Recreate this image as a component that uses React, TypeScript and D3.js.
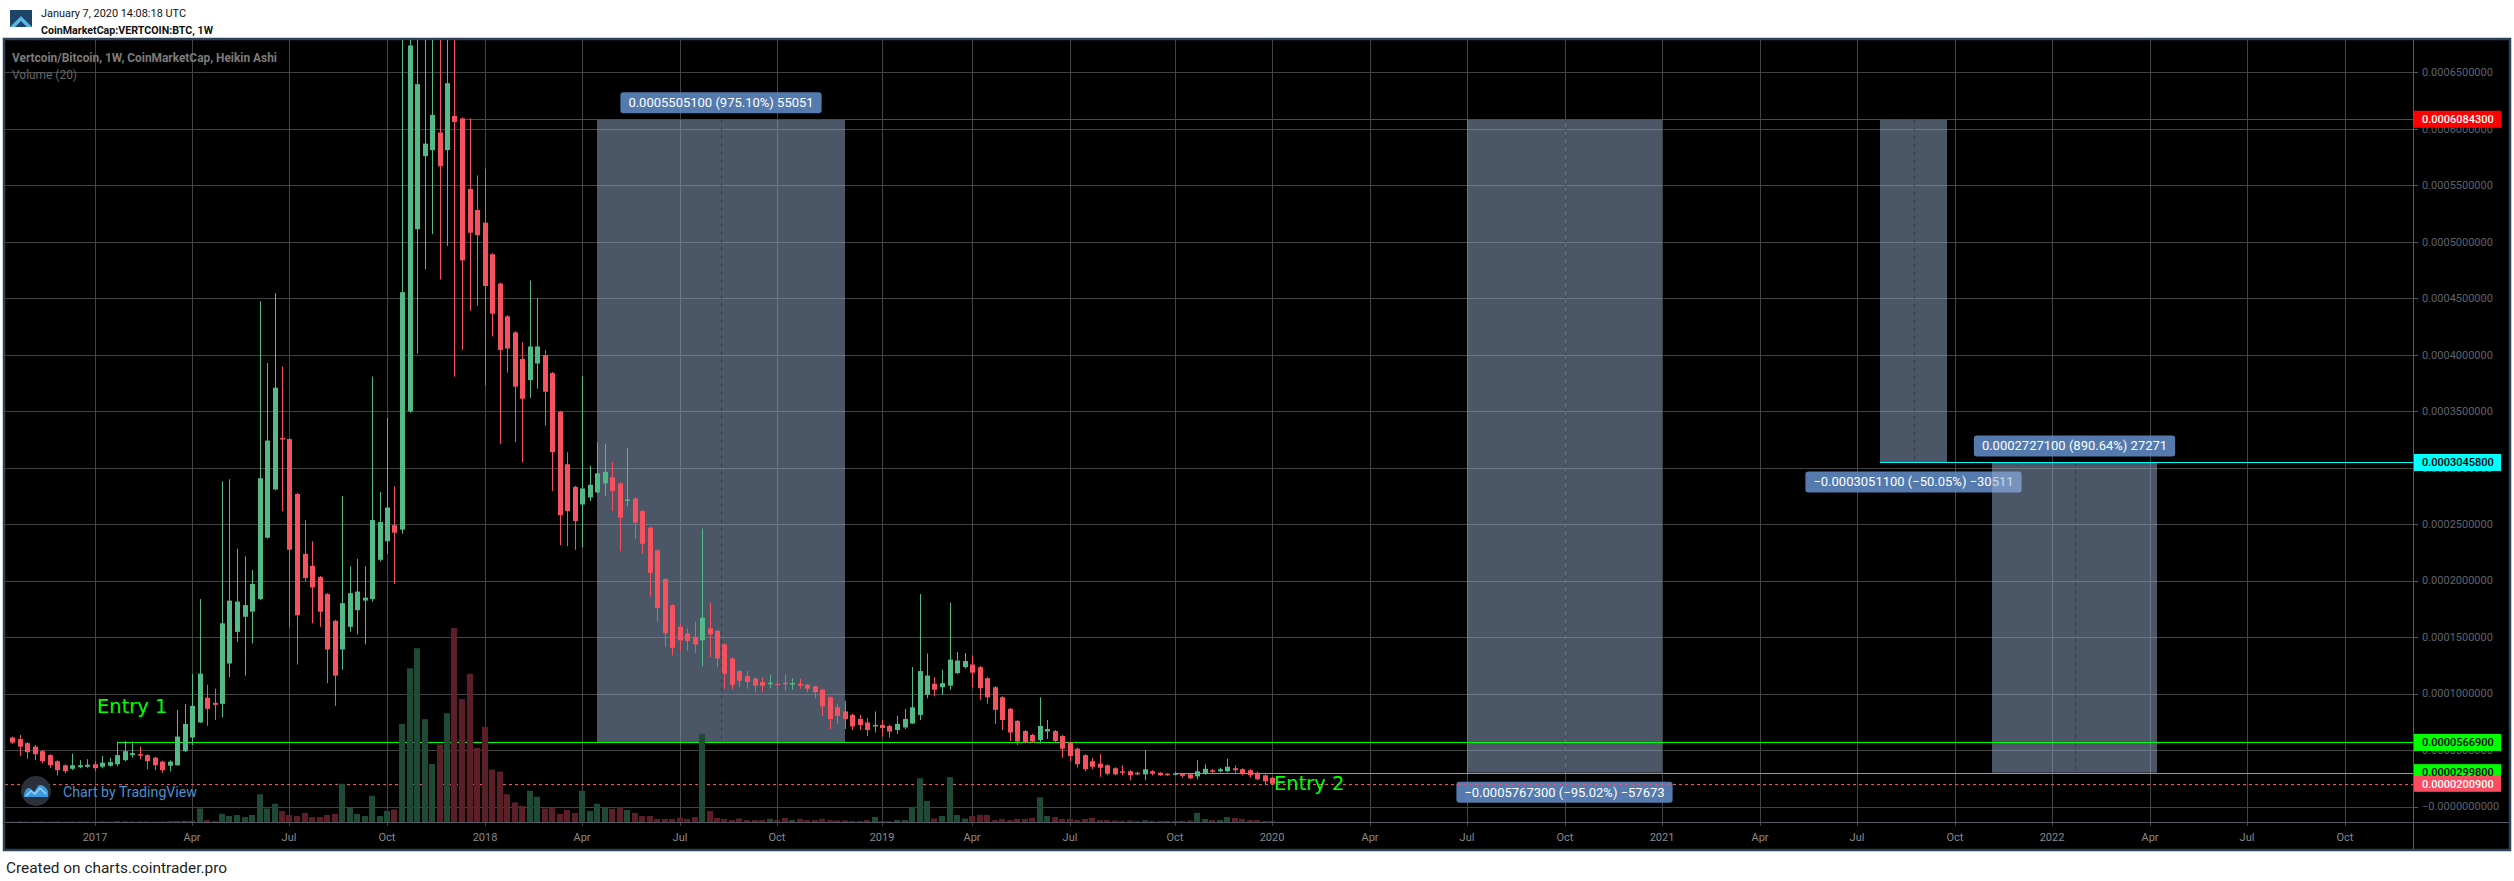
import React from "react";
import * as d3 from "d3";

// ---------- DATA ----------
// Weekly Heikin Ashi candles of Vertcoin/Bitcoin, first bar = week of 2016-10-17, last = 2020-01-06
// Prices are in units of 1e-5 BTC
const FIRST_WEEK = "2016-10-17";
const LAST_WEEK = "2020-01-06";
const PRICE_UNIT = 1e-5;

const OPEN = [
  6.11, 5.97, 5.61, 5.3, 4.9, 4.55, 4.01, 3.65, 3.34, 3.48, 3.52, 3.74, 3.52, 3.61, 3.74, 4.1, 4.55, 4.63, 4.55, 4.32,
  3.97, 3.61, 3.65, 4.9, 6.11, 7.44, 9.63, 9.18, 9.09, 12.66, 15.46, 16.8, 17.25, 18.36, 23.8, 28.07, 32.62, 32.53, 27.67, 22.37,
  21.3, 20.32, 18.81, 16.44, 13.9, 15.91, 17.38, 18.23, 18.36, 21.84, 23.48, 24.91, 24.51, 34.98, 51.11, 57.58, 58.11, 59.67, 58.11, 61.14,
  60.92, 54.68, 52.81, 51.69, 48.89, 46.3, 43.4, 41.98, 39.62, 37.75, 39.22, 39.97, 38.37, 34.94, 30.3, 28.3, 26.74, 27.36, 27.81, 28.61,
  29.14, 28.61, 27.05, 27.27, 26.16, 24.69, 22.68, 20.14, 17.83, 15.91, 15.33, 15.02, 14.71, 15.78, 15.55, 14.35, 13.1, 11.99, 11.54, 11.32,
  11.01, 10.83, 10.87, 10.96, 10.83, 10.87, 10.78, 10.65, 10.34, 9.67, 8.78, 8.42, 8.11, 7.75, 7.44, 7.09, 7.22, 7.13, 6.77, 7.0,
  7.35, 8.11, 9.89, 10.87, 10.56, 10.7, 11.81, 12.34, 12.57, 12.34, 11.36, 10.56, 9.67, 8.65, 7.58, 6.68, 6.33, 5.88, 6.64, 6.68,
  6.24, 5.66, 5.12, 4.55, 4.01, 3.79, 3.65, 3.39, 3.12, 3.12, 2.99, 2.85, 3.12, 2.99, 2.9, 2.85, 2.9, 2.85, 2.67, 2.9,
  3.21, 3.12, 3.12, 3.39, 3.3, 3.21, 2.99, 2.76, 2.54,
];
const HIGH = [
  6.19, 6.33, 5.7, 5.44, 4.99, 4.63, 4.1, 3.74, 4.68, 4.1, 4.19, 4.01, 4.46, 4.32, 5.75, 5.79, 5.75, 5.3, 4.63, 4.41,
  4.06, 4.1, 8.56, 9.09, 11.76, 18.36, 10.78, 10.43, 28.79, 28.97, 22.82, 22.15, 20.94, 44.74, 39.26, 45.45, 38.95, 32.62, 27.76, 25.36,
  23.48, 20.41, 18.89, 16.53, 27.5, 21.26, 21.93, 21.26, 38.06, 27.85, 34.4, 28.34, 70.0, 78.0, 76.0, 74.0, 72.0, 70.5, 72.0, 72.5,
  61.0, 60.92, 55.88, 56.46, 48.98, 46.39, 43.49, 42.07, 41.09, 46.57, 45.01, 40.42, 38.46, 35.03, 31.37, 28.39, 38.1, 30.17, 32.26, 32.09,
  30.48, 28.7, 31.73, 27.36, 26.25, 24.78, 22.77, 20.23, 17.91, 16.22, 15.78, 16.35, 24.6, 18.05, 15.64, 14.44, 13.19, 12.08, 11.99, 11.45,
  11.45, 11.68, 11.32, 11.72, 11.36, 11.32, 10.87, 10.7, 10.43, 9.76, 9.09, 9.36, 8.2, 8.11, 7.84, 8.42, 7.66, 7.22, 8.02, 8.65,
  12.34, 18.81, 13.55, 11.45, 12.12, 18.05, 13.68, 13.59, 13.37, 12.43, 11.45, 10.65, 9.76, 8.73, 7.66, 6.77, 6.42, 9.67, 7.66, 6.77,
  6.33, 5.75, 5.21, 4.63, 4.32, 4.63, 3.74, 3.48, 3.65, 3.21, 3.07, 4.99, 3.21, 3.03, 2.94, 3.07, 2.94, 2.9, 4.1, 3.74,
  3.34, 3.43, 4.23, 3.65, 3.39, 3.3, 3.07, 2.85, 2.63,
];
const LOW = [
  5.53, 4.46, 4.23, 4.1, 3.83, 3.43, 2.76, 2.94, 3.21, 3.39, 3.43, 3.12, 3.39, 3.52, 3.57, 4.01, 4.32, 4.19, 3.3, 3.21,
  2.99, 3.12, 3.61, 4.81, 5.44, 7.4, 7.13, 7.66, 7.89, 11.45, 14.57, 11.59, 14.44, 18.27, 23.71, 27.99, 26.16, 15.91, 12.57, 19.92,
  16.22, 15.91, 10.92, 8.91, 12.12, 15.46, 15.24, 14.35, 18.14, 21.7, 22.37, 19.7, 24.15, 34.85, 40.11, 47.55, 50.67, 46.66, 49.64, 38.06,
  40.42, 43.89, 44.34, 37.25, 41.62, 32.09, 38.41, 32.26, 30.48, 36.19, 36.99, 33.73, 27.94, 23.13, 23.04, 22.73, 22.95, 27.05, 27.72, 27.5,
  26.16, 22.59, 26.6, 23.71, 22.37, 18.58, 16.35, 14.13, 13.37, 13.68, 13.77, 13.59, 12.43, 13.24, 12.34, 10.43, 10.34, 10.56, 10.43, 10.12,
  10.12, 10.47, 10.25, 10.25, 10.34, 10.43, 10.12, 9.58, 8.02, 6.86, 7.31, 6.86, 6.77, 6.77, 6.24, 6.55, 6.19, 6.11, 6.42, 6.86,
  7.31, 7.66, 9.58, 9.76, 9.89, 10.34, 11.72, 12.21, 10.56, 9.45, 9.09, 7.31, 6.77, 5.79, 5.44, 5.57, 5.61, 5.57, 5.97, 5.66,
  4.32, 4.01, 3.43, 3.12, 3.3, 2.63, 2.76, 2.76, 2.76, 2.32, 2.76, 2.32, 2.76, 2.72, 2.72, 2.76, 2.54, 2.41, 2.41, 2.81,
  2.99, 3.03, 3.03, 2.99, 2.76, 2.54, 2.32, 1.87, 1.98,
];
const CLOSE = [
  5.66, 5.3, 4.81, 4.63, 4.01, 3.65, 3.21, 3.12, 3.65, 3.65, 3.7, 3.39, 3.88, 3.92, 4.55, 4.9, 4.72, 4.55, 4.01, 3.65,
  3.21, 3.97, 6.19, 7.31, 8.91, 11.76, 8.65, 9.0, 16.22, 18.23, 18.14, 17.83, 19.7, 29.06, 32.4, 37.08, 32.49, 22.73, 16.93, 20.23,
  19.39, 17.25, 13.9, 11.59, 18.0, 18.89, 19.03, 18.49, 25.36, 25.18, 26.47, 24.24, 45.54, 67.38, 63.95, 58.69, 61.23, 56.68, 64.04, 60.61,
  48.35, 50.8, 50.58, 46.08, 43.63, 40.42, 40.55, 37.17, 36.1, 40.73, 40.73, 36.72, 31.37, 25.8, 26.16, 25.27, 28.16, 28.48, 29.5, 29.63,
  27.94, 25.58, 27.18, 25.13, 23.26, 20.68, 17.56, 15.33, 14.04, 14.71, 14.66, 14.35, 16.71, 15.24, 13.1, 11.76, 10.78, 11.14, 11.01, 10.7,
  10.7, 10.96, 10.78, 10.83, 10.92, 10.7, 10.43, 10.12, 8.87, 7.75, 8.02, 7.75, 7.09, 7.22, 6.77, 7.22, 6.95, 6.64, 7.31, 7.75,
  8.78, 11.99, 11.59, 10.34, 10.92, 13.01, 12.92, 12.88, 11.85, 10.47, 9.67, 8.56, 7.66, 6.55, 5.75, 5.66, 5.75, 7.13, 6.86, 5.79,
  5.12, 4.46, 3.74, 3.3, 3.52, 3.43, 2.9, 2.85, 3.03, 2.76, 2.85, 3.3, 2.9, 2.76, 2.76, 2.94, 2.72, 2.5, 3.12, 3.34,
  3.12, 3.3, 3.52, 3.21, 2.94, 2.76, 2.41, 2.23, 2.01,
];
// Volume (20), relative (largest week = 100)
const VOLUME = [
  0.2, 0.3, 0.2, 0.2, 0.3, 0.2, 0.3, 0.2, 0.2, 0.3, 0.2, 0.2, 0.3, 0.2, 0.4, 0.3, 0.2, 0.3, 0.3, 0.2,
  0.3, 0.4, 0.5, 0.6, 0.6, 7.0, 1.0, 0.5, 4.2, 3.1, 3.6, 2.6, 3.6, 14.3, 7.0, 9.4, 5.7, 3.6, 3.1, 4.7,
  2.6, 2.6, 3.6, 4.2, 19.7, 7.3, 4.2, 3.1, 13.5, 3.1, 5.7, 6.5, 50.6, 79.2, 89.6, 53.0, 29.9, 40.0, 56.1, 100,
  63.4, 76.4, 38.2, 49.1, 27.0, 26.0, 14.3, 10.1, 8.3, 16.1, 13.0, 7.0, 7.5, 4.2, 6.2, 4.7, 16.1, 5.7, 9.4, 7.3,
  6.8, 7.8, 6.2, 4.7, 3.1, 3.1, 1.6, 1.6, 1.6, 2.1, 1.6, 2.6, 45.5, 5.7, 2.1, 1.6, 1.0, 1.8, 1.0, 1.0,
  1.0, 1.6, 1.0, 2.1, 1.0, 1.6, 1.0, 1.0, 1.6, 1.0, 0.8, 0.8, 0.5, 0.5, 1.0, 2.6, 0.5, 0.5, 1.0, 1.0,
  7.8, 22.6, 10.9, 1.8, 3.1, 23.1, 3.6, 1.8, 3.1, 3.6, 3.6, 1.0, 1.6, 1.0, 1.6, 1.6, 2.1, 12.7, 3.1, 2.6,
  1.6, 1.6, 1.0, 1.6, 2.1, 1.0, 1.0, 0.8, 0.6, 0.8, 0.5, 0.9, 0.6, 0.5, 0.6, 0.5, 0.7, 0.8, 4.7, 1.6,
  1.0, 1.0, 2.6, 2.1, 1.6, 1.0, 1.0, 0.5, 0.5,
];

const TIME_TICK_DATES = [
  "2017-01-02", "2017-04-03", "2017-07-03", "2017-10-02",
  "2018-01-01", "2018-04-02", "2018-07-02", "2018-10-01",
  "2019-01-07", "2019-04-01", "2019-07-01", "2019-10-07",
  "2020-01-06", "2020-04-06", "2020-07-06", "2020-10-05",
  "2021-01-04", "2021-04-05", "2021-07-05", "2021-10-04",
  "2022-01-03", "2022-04-04", "2022-07-04", "2022-10-03",
];
const TIME_TICK_LABELS = [
  "2017", "Apr", "Jul", "Oct", "2018", "Apr", "Jul", "Oct", "2019", "Apr", "Jul", "Oct",
  "2020", "Apr", "Jul", "Oct", "2021", "Apr", "Jul", "Oct", "2022", "Apr", "Jul", "Oct",
];

const PRICE_TICKS = [0, 0.00005, 0.0001, 0.00015, 0.0002, 0.00025, 0.0003, 0.00035, 0.0004, 0.00045, 0.0005, 0.00055, 0.0006, 0.00065];
const PRICE_TICK_LABELS = [
  "\u22120.0000000000", "0.0000500000", "0.0001000000", "0.0001500000", "0.0002000000", "0.0002500000", "0.0003000000",
  "0.0003500000", "0.0004000000", "0.0004500000", "0.0005000000", "0.0005500000", "0.0006000000", "0.0006500000",
];

// Horizontal levels drawn on the chart
const LEVEL_NAMES = ["top", "half", "entry1", "entry2"];
const LEVEL_PRICES = [0.00060843, 0.00030458, 0.00005669, 0.00002998];
const LEVEL_STARTS = ["2017-12-11", "2021-07-26", "2017-01-23", "2019-10-07"];
const LEVEL_LABELS = ["0.0006084300", "0.0003045800", "0.0000566900", "0.0000299800"];
const LAST_PRICE = 0.00002009;
const LAST_PRICE_LABEL = "0.0000200900";

// Price range measurements
const RANGE_STARTS = ["2018-04-16", "2020-07-06", "2021-07-26", "2021-11-08"];
const RANGE_ENDS = ["2018-12-03", "2021-01-04", "2021-09-27", "2022-04-11"];
const RANGE_FROM = [0.00005669, 0.00060843, 0.00060843, 0.00002998];
const RANGE_TO = [0.00060843, 0.00002998, 0.00030458, 0.00030458];
const RANGE_TEXTS = [
  "0.0005505100 (975.10%) 55051",
  "\u22120.0005767300 (\u221295.02%) \u221257673",
  "\u22120.0003051100 (\u221250.05%) \u221230511",
  "0.0002727100 (890.64%) 27271",
];

const NOTE_TEXTS = ["Entry 1", "Entry 2"];
const NOTE_DATES = ["2017-01-02", "2020-01-06"];
const NOTE_PRICES = [0.000083, 0.0000146];

// ---------- STYLE ----------
const LEVEL_COLORS: Record<string, string> = { top: "#ff0000", half: "#00ffff", entry1: "#00ff00", entry2: "#00ff00" };
const LEVEL_TEXT: Record<string, string> = { top: "#ffffff", half: "#000000", entry1: "#000000", entry2: "#000000" };
const UP = "#53b987";
const DOWN = "#f5515f";
const VOL_UP = "#1f4a35";
const VOL_DOWN = "#5c1f27";
const GRID = "#434343";
const AXIS = "#565a64";
const FONT = "Roboto, 'Noto Sans', sans-serif";

const P = { left: 5, right: 2413, top: 40, bottom: 822 };

const parse = (s: string) => new Date(s + "T00:00:00Z");

function textWidth(text: string, font: string): number {
  try {
    const c = document.createElement("canvas").getContext("2d");
    if (c) {
      c.font = font;
      return c.measureText(text).width;
    }
  } catch (e) {}
  return text.length * 7.1;
}

export default function App() {
  const x = d3.scaleUtc().domain([parse(FIRST_WEEK), parse(LAST_WEEK)]).range([12, 1272]);
  const y = d3.scaleLinear().domain([0, 0.0006]).range([806.5, 128.8]);
  const yVol = d3.scaleLinear().domain([0, 100]).range([P.bottom, 628]);

  const start = parse(FIRST_WEEK);
  const candles = OPEN.map((o, i) => ({
    date: d3.utcMonday.offset(start, i),
    o: o * PRICE_UNIT,
    h: HIGH[i] * PRICE_UNIT,
    l: LOW[i] * PRICE_UNIT,
    c: CLOSE[i] * PRICE_UNIT,
    v: VOLUME[i],
  }));

  const px = (d: Date) => Math.round(x(d));

  const rangeFont = `13px ${FONT}`;

  return (
    <svg
      width={2514}
      height={881}
      style={{ position: "fixed", left: 0, top: 0, background: "#ffffff" }}
      fontFamily={FONT}
    >
      <defs>
        <clipPath id="pane">
          <rect x={P.left} y={P.top} width={P.right - P.left} height={P.bottom - P.top} />
        </clipPath>
      </defs>
      <rect x={0} y={0} width={2514} height={881} fill="#ffffff" />

      {/* header */}
      <g>
        <rect x={10} y={10} width={22} height={17} fill="#1d4466" />
        <polygon points="10,27 21,16 32,27 27,27 21,21 15,27" fill="#5ab8e6" />
        <text x={41} y={17.3} fontSize={11.5} fill="#111" textLength={145} lengthAdjust="spacingAndGlyphs">
          January 7, 2020 14:08:18 UTC
        </text>
        <text x={41} y={34.3} fontSize={11.5} fontWeight={700} fill="#111" textLength={172} lengthAdjust="spacingAndGlyphs">
          CoinMarketCap:VERTCOIN:BTC, 1W
        </text>
      </g>

      {/* chart frame */}
      <rect x={4} y={39} width={2506} height={811} fill="#000000" stroke="#2d4256" strokeWidth={2.5} />

      {/* grid */}
      <g>
        {PRICE_TICKS.map((t, i) => (
          <line key={"hg" + i} x1={P.left} x2={P.right} y1={Math.round(y(t)) + 0.5} y2={Math.round(y(t)) + 0.5} stroke={GRID} strokeWidth={1} />
        ))}
        {TIME_TICK_DATES.map((d, i) => (
          <line key={"vg" + i} x1={px(parse(d)) + 0.5} x2={px(parse(d)) + 0.5} y1={P.top} y2={P.bottom + 4} stroke={GRID} strokeWidth={1} />
        ))}
      </g>

      {/* price ranges */}
      <g clipPath="url(#pane)">
        {RANGE_STARTS.map((s, i) => {
          const x0 = px(parse(s));
          const x1 = px(parse(RANGE_ENDS[i]));
          const top = y(Math.max(RANGE_FROM[i], RANGE_TO[i]));
          const bot = y(Math.min(RANGE_FROM[i], RANGE_TO[i]));
          const up = RANGE_TO[i] > RANGE_FROM[i];
          const tw = textWidth(RANGE_TEXTS[i], rangeFont) + 16;
          const cx = (x0 + x1) / 2;
          const ly = up ? top - 6 - 21 : bot + 9;
          return (
            <g key={"r" + i}>
              <rect x={x0} y={top} width={x1 - x0} height={bot - top} fill="rgba(150,172,204,0.5)" />
              <line x1={Math.round(cx) + 0.5} x2={Math.round(cx) + 0.5} y1={top} y2={bot} stroke="rgba(40,40,40,0.55)" strokeDasharray="4,4" />
              <rect x={cx - tw / 2} y={ly} width={tw} height={21} rx={3} fill="rgba(96,140,200,0.87)" />
              <text x={cx} y={ly + 15} textAnchor="middle" fontSize={13} fill="#ffffff">
                {RANGE_TEXTS[i]}
              </text>
            </g>
          );
        })}
      </g>

      {/* levels */}
      <g clipPath="url(#pane)">
        <line
          x1={P.left}
          x2={P.right}
          y1={Math.round(y(LAST_PRICE)) + 0.5}
          y2={Math.round(y(LAST_PRICE)) + 0.5}
          stroke="#f94c60"
          strokeDasharray="3,3"
        />
        {LEVEL_NAMES.map((n, i) => (
          <line
            key={"lv" + i}
            x1={px(parse(LEVEL_STARTS[i]))}
            x2={P.right}
            y1={Math.round(y(LEVEL_PRICES[i])) + 0.5}
            y2={Math.round(y(LEVEL_PRICES[i])) + 0.5}
            stroke={LEVEL_COLORS[n]}
            strokeWidth={1.2}
          />
        ))}
      </g>

      {/* volume */}
      <g clipPath="url(#pane)">
        {candles.map((d, i) => (
          <rect
            key={"v" + i}
            x={px(d.date) - 3}
            y={yVol(d.v)}
            width={6}
            height={P.bottom - yVol(d.v)}
            fill={d.c >= d.o ? VOL_UP : VOL_DOWN}
          />
        ))}
      </g>

      {/* candles */}
      <g clipPath="url(#pane)">
        {candles.map((d, i) => {
          const cx = px(d.date);
          const col = d.c >= d.o ? UP : DOWN;
          const bt = y(Math.max(d.o, d.c));
          const bb = y(Math.min(d.o, d.c));
          return (
            <g key={"c" + i}>
              <line x1={cx + 0.5} x2={cx + 0.5} y1={y(d.h)} y2={y(d.l)} stroke={col} strokeWidth={1} />
              <rect x={cx - 2} y={bt} width={5} height={Math.max(1.5, bb - bt)} fill={col} />
            </g>
          );
        })}
      </g>

      {/* notes */}
      {NOTE_TEXTS.map((t, i) => (
        <text
          key={"n" + i}
          x={px(parse(NOTE_DATES[i])) + 2}
          y={y(NOTE_PRICES[i])}
          fontSize={19.5}
          fontFamily="'DejaVu Sans', sans-serif"
          fill="#00ff00"
        >
          {t}
        </text>
      ))}

      {/* TradingView watermark */}
      <g>
        <circle cx={36} cy={791} r={15} fill="#2b303b" />
        <path d="M24,797 C24,790 28,786 31,789 L34,792 L38,786 C41,783 46,787 48,791 L48,797 Z" fill="#3c9be0" />
        <path d="M26,796 L31,791 L35,794 L40,788 L46,794" fill="none" stroke="#9fd3ff" strokeWidth={1.5} />
        <text x={63} y={797} fontSize={15} fill="#4a8fd0" textLength={134} lengthAdjust="spacingAndGlyphs">
          Chart by TradingView
        </text>
      </g>

      {/* titles */}
      <text x={12} y={62} fontSize={13} fontWeight={700} fill="#7c7c7c" textLength={265} lengthAdjust="spacingAndGlyphs">
        Vertcoin/Bitcoin, 1W, CoinMarketCap, Heikin Ashi
      </text>
      <text x={12} y={79} fontSize={13} fill="#666666" textLength={65} lengthAdjust="spacingAndGlyphs">
        Volume (20)
      </text>

      {/* right axis */}
      <g>
        <line x1={P.right + 0.5} x2={P.right + 0.5} y1={P.top} y2={849} stroke={AXIS} />
        {PRICE_TICKS.map((t, i) => (
          <g key={"yt" + i}>
            <line x1={P.right} x2={P.right + 5} y1={Math.round(y(t)) + 0.5} y2={Math.round(y(t)) + 0.5} stroke={AXIS} />
            <text x={2422} y={y(t)} dy="0.35em" fontSize={11} fill="#5f636d">
              {PRICE_TICK_LABELS[i]}
            </text>
          </g>
        ))}
        {LEVEL_NAMES.map((n, i) => (
          <g key={"lb" + i}>
            <rect x={P.right + 1} y={y(LEVEL_PRICES[i]) - 8.5} width={87} height={17} fill={LEVEL_COLORS[n]} />
            <text x={2422} y={y(LEVEL_PRICES[i])} dy="0.35em" fontSize={11} fontWeight={500} fill={LEVEL_TEXT[n]}>
              {LEVEL_LABELS[i]}
            </text>
          </g>
        ))}
        <rect x={P.right + 1} y={y(LAST_PRICE) - 8} width={87} height={16} fill="#f94c60" />
        <text x={2422} y={y(LAST_PRICE)} dy="0.35em" fontSize={11} fontWeight={500} fill="#ffffff">
          {LAST_PRICE_LABEL}
        </text>
      </g>

      {/* time axis */}
      <g>
        <line x1={P.left} x2={2509} y1={P.bottom + 0.5} y2={P.bottom + 0.5} stroke={AXIS} />
        {TIME_TICK_DATES.map((d, i) => (
          <text key={"xt" + i} x={px(parse(d))} y={837} dy="0.35em" textAnchor="middle" fontSize={11} fill="#8a8a8a">
            {TIME_TICK_LABELS[i]}
          </text>
        ))}
      </g>

      {/* footer */}
      <text x={6} y={873} fontSize={14} fill="#222" textLength={221} lengthAdjust="spacingAndGlyphs">
        Created on charts.cointrader.pro
      </text>
    </svg>
  );
}
